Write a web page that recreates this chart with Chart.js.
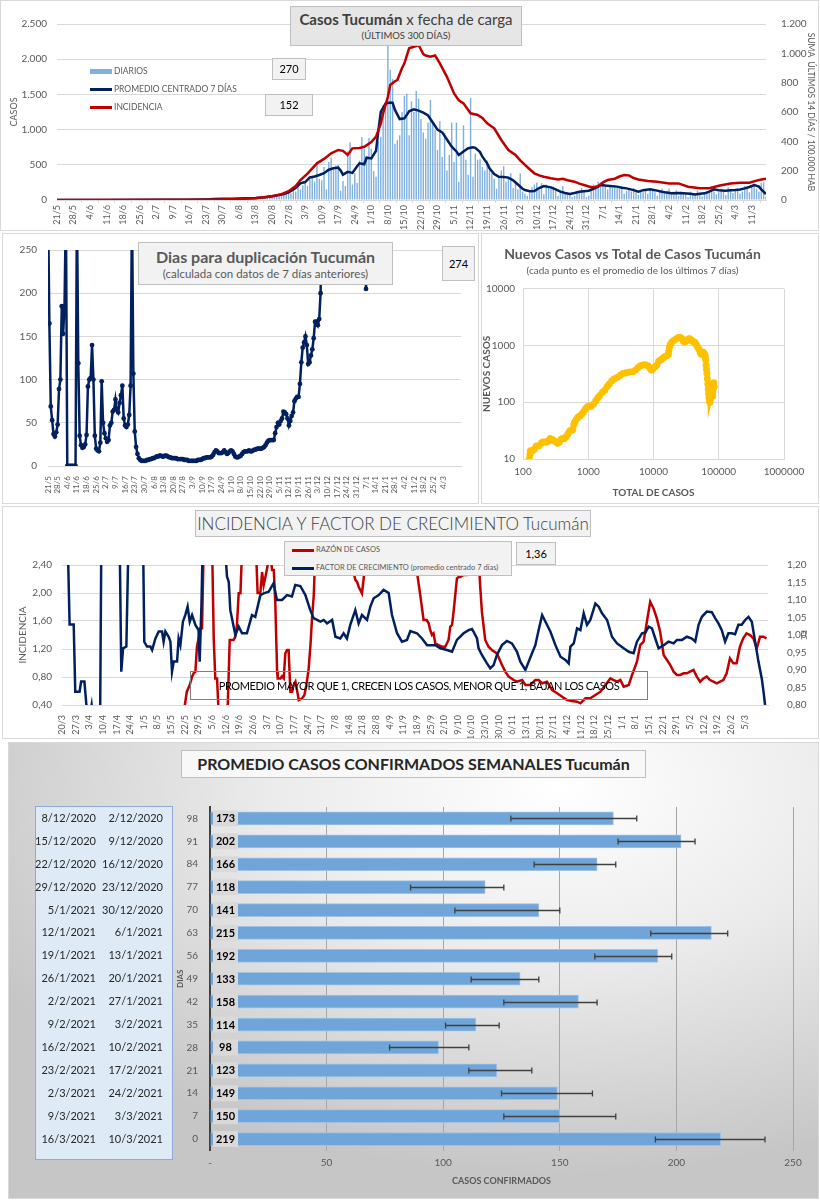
<!DOCTYPE html>
<html lang="es">
<head>
<meta charset="utf-8">
<title>Casos Tucumán</title>
<script src="https://cdn.jsdelivr.net/npm/chart.js@4.4.0/dist/chart.umd.min.js"></script>
<style>
  body { margin: 0; background: #fff; font-family: Lato, "Liberation Sans", sans-serif; }
  #page { position: relative; width: 820px; height: 1200px; overflow: hidden; }
  .panel { position: absolute; box-sizing: border-box; border: 1px solid #d9d9d9; background: #fff; }
  canvas { position: absolute; }
  .caja { position: absolute; box-sizing: border-box; background: #f2f2f2; border: 1px solid #bfbfbf;
          text-align: center; color: #404040; z-index: 3; white-space: nowrap; }
  .leyenda { position: absolute; z-index: 3; font-size: 8.5px; color: #595959; white-space: nowrap; }
  .leyenda div { position: absolute; left: 0; height: 12px; line-height: 12px; }
  .leyenda i { display: inline-block; width: 22px; vertical-align: middle; margin-right: 2px; }
</style>
</head>
<body>
<div id="page">
  <!-- paneles -->
  <div class="panel" style="left:0;top:0;width:819px;height:231px"></div>
  <div class="panel" style="left:2px;top:233px;width:477px;height:271px"></div>
  <div class="panel" style="left:481px;top:233px;width:338px;height:271px"></div>
  <div class="panel" style="left:2px;top:506px;width:817px;height:233px"></div>
  <div class="panel" style="left:8px;top:742px;width:811px;height:457px;
       background:radial-gradient(ellipse 80% 85% at 68% 10%, #ffffff 0%, #ebebeb 45%, #c6c6c6 100%);"></div>
  <div style="position:absolute;left:35px;top:806px;width:138px;height:354px;box-sizing:border-box;
       background:#deebf7;border:1.5px solid #8eaadb;"></div>

  <canvas id="c1" width="818" height="230" style="left:0;top:0"></canvas>
  <canvas id="c2" width="476" height="270" style="left:2px;top:233px"></canvas>
  <canvas id="c3" width="337" height="270" style="left:481px;top:233px"></canvas>
  <canvas id="c4" width="816" height="232" style="left:2px;top:506px"></canvas>
  <canvas id="c5" width="810" height="456" style="left:8px;top:742px"></canvas>

  <!-- grafico 1 -->
  <div class="caja" style="left:290px;top:6px;width:232px;height:40px;background:#e7e6e6">
    <div style="font-size:15px;margin-top:3px"><b>Casos Tucumán</b> x fecha de carga</div>
    <div style="font-size:9.5px;margin-top:2px">(ÚLTIMOS 300 DÍAS)</div>
  </div>
  <div class="caja" style="left:272px;top:58px;width:34px;height:22px;line-height:20px;font-size:11px;color:#000">270</div>
  <div class="caja" style="left:265px;top:94px;width:48px;height:22px;line-height:20px;font-size:11px;color:#000">152</div>
  <div class="leyenda" style="left:90px;top:65px">
    <div style="top:0"><i style="height:5px;background:#7fb0de"></i>DIARIOS</div>
    <div style="top:18px"><i style="height:3px;background:#002060"></i>PROMEDIO CENTRADO 7 DÍAS</div>
    <div style="top:36px"><i style="height:3px;background:#c00000"></i>INCIDENCIA</div>
  </div>

  <!-- grafico 2 -->
  <div class="caja" style="left:138px;top:242px;width:255px;height:43px;color:#595959">
    <div style="font-size:16px;font-weight:bold;margin-top:4px">Dias para duplicación Tucumán</div>
    <div style="font-size:11.5px;margin-top:1px">(calculada con datos de 7 días anteriores)</div>
  </div>
  <div class="caja" style="left:442px;top:246px;width:33px;height:35px;line-height:33px;font-size:11px;color:#000">274</div>

  <!-- grafico 4 -->
  <div class="caja" style="left:195px;top:510px;width:396px;height:27px;line-height:25px;font-size:17px;font-weight:300;color:#404040">INCIDENCIA Y FACTOR DE CRECIMIENTO Tucumán</div>
  <div class="caja" style="left:284px;top:541px;width:228px;height:35px">
    <div class="leyenda" style="left:7px;top:2px;font-size:7.5px">
      <div style="top:0"><i style="height:3px;background:#c00000"></i>RAZÓN DE CASOS</div>
      <div style="top:18px"><i style="height:3px;background:#002060"></i>FACTOR DE CRECIMIENTO (promedio centrado 7 días)</div>
    </div>
  </div>
  <div class="caja" style="left:516px;top:542px;width:40px;height:23px;line-height:21px;font-size:11px;color:#000">1,36</div>
  <div class="caja" style="left:190px;top:671px;width:458px;height:29px;line-height:27px;background:transparent;border-color:#7f7f7f;font-size:11px;letter-spacing:-0.4px;color:#000">PROMEDIO MAYOR QUE 1, CRECEN LOS CASOS, MENOR QUE 1, BAJAN LOS CASOS</div>

  <!-- grafico 5 -->
  <div class="caja" style="left:181px;top:750px;width:465px;height:28px;line-height:26px;background:#f8f8f8;font-size:16px;font-weight:bold;color:#262626">PROMEDIO CASOS CONFIRMADOS SEMANALES Tucumán</div>
</div>

<script>
// ---- datos grafico 1 y 2 (dias desde 21/5/2020) ----
const semanas = ['21/5','28/5','4/6','11/6','18/6','25/6','2/7','9/7','16/7','23/7','30/7','6/8','13/8','20/8','27/8',
  '3/9','10/9','17/9','24/9','1/10','8/10','15/10','22/10','29/10','5/11','12/11','19/11','26/11','3/12','10/12',
  '17/12','24/12','31/12','7/1','14/1','21/1','28/1','4/2','11/2','18/2','25/2','4/3','11/3'];

// casos diarios, una fila por semana
const diarios = [
  0,0,1,0,0,2,0,
  0,1,0,0,3,0,0,
  1,0,0,2,0,1,0,
  0,3,1,0,0,2,1,
  0,1,2,0,4,1,0,
  2,0,1,3,0,1,2,
  1,3,0,2,5,1,2,
  3,2,6,1,4,2,3,
  5,3,8,4,6,2,7,
  9,6,12,8,15,10,14,
  18,12,22,15,25,10,20,
  22,18,30,14,26,20,35,
  28,40,22,38,45,30,55,
  60,48,75,55,90,70,85,
  110,95,140,120,180,150,210,
  240,200,290,320,260,510,300,
  280,470,150,540,600,430,490,
  500,130,270,200,690,820,220,
  380,240,560,890,730,620,880,
  730,410,330,830,900,1350,1380,
  2200,1850,1720,800,850,920,1250,
  1480,1510,920,1400,1250,1550,1440,
  1150,960,870,1100,1420,1110,990,
  710,1120,610,950,420,640,1100,
  540,1100,260,650,1060,570,360,
  1450,330,660,570,580,470,420,
  560,430,380,300,160,330,420,
  480,260,330,380,170,260,150,
  380,120,90,60,110,180,220,
  250,150,240,80,220,170,160,
  190,130,60,140,200,110,90,
  100,40,60,130,110,170,140,
  40,60,130,220,180,260,200,
  240,220,150,200,180,210,170,
  160,200,90,130,150,120,170,
  110,70,140,110,160,90,150,
  140,110,60,120,160,100,130,
  160,90,100,140,60,120,110,
  90,40,120,80,70,130,100,
  50,90,110,140,170,120,80,
  110,160,140,70,180,130,100,
  150,160,90,120,200,170,110,
  190,230,160,120,240,250,50
];

// [dia, promedio centrado 7 dias]
const promedio7 = [[0,0],[20,1],[40,2],[55,4],[60,6],[63,8],[66,13],[70,17],[74,19],[77,21],[80,24],[84,30],[88,40],
  [91,52],[94,72],[96,85],[98,110],[101,170],[103,236],[105,255],[107,320],[109,335],[111,355],[113,380],[115,430],
  [117,450],[119,460],[120,420],[121,360],[123,400],[125,385],[127,480],[128,521],[130,508],[131,600],[133,590],
  [135,700],[136,990],[137,1250],[139,1370],[141,1385],[142,1380],[143,1280],[145,1150],[147,1160],[149,1260],
  [151,1288],[153,1270],[155,1240],[157,1200],[159,1100],[161,1000],[163,960],[165,860],[167,757],[169,690],
  [170,640],[172,690],[174,735],[176,750],[177,740],[179,680],[180,615],[182,520],[183,450],[185,370],[187,330],
  [189,325],[191,318],[193,280],[195,220],[197,160],[198,142],[200,125],[202,128],[204,170],[206,199],[209,180],
  [211,150],[213,118],[215,100],[217,85],[219,100],[221,118],[223,125],[225,132],[227,160],[229,190],[230,213],
  [232,205],[234,199],[237,190],[239,175],[241,165],[244,140],[246,118],[248,140],[251,151],[253,140],[256,118],
  [258,105],[260,95],[263,98],[265,95],[268,88],[270,80],[272,88],[274,95],[276,120],[278,151],[280,140],[283,132],
  [285,138],[287,142],[289,150],[291,165],[293,185],[295,213],[297,190],[298,151],[300,85]];

// [dia, suma ultimos 14 dias / 100.000 hab]
const incidencia14 = [[0,0],[60,1],[70,4],[77,7],[84,12],[91,25],[95,40],[98,60],[101,95],[103,136],[106,180],
  [110,250],[113,280],[116,318],[119,341],[121,335],[123,307],[125,352],[128,355],[130,363],[133,395],[135,432],
  [137,520],[138,591],[140,704],[141,784],[143,810],[144,818],[146,900],[147,932],[149,1034],[151,1045],[153,1057],
  [155,995],[156,985],[158,977],[160,985],[162,932],[165,840],[168,727],[170,680],[172,659],[175,591],[178,580],
  [180,560],[182,523],[185,489],[188,409],[191,341],[194,307],[196,270],[198,239],[200,210],[202,182],[204,168],
  [206,159],[209,148],[212,140],[214,145],[216,135],[219,125],[221,112],[223,102],[225,92],[227,86],[229,95],
  [231,120],[233,136],[236,145],[238,160],[240,170],[242,168],[244,150],[246,140],[250,129],[254,125],[259,113],
  [263,113],[267,91],[272,80],[276,80],[280,97],[285,113],[289,118],[293,118],[296,132],[298,140],[300,145]];

// dias para duplicacion, dia 0 .. 198
const duplicacion = [
  300,165,69,53,37,34,39,48,89,100,185,153,185,300,
  0,0,0,0,0,0,0,
  300,
  119,35,24,21,22,25,36,92,100,102,140,100,35,
  20,18,17,27,98,50,38,32,28,30,47,50,63,65,
  77,65,62,73,82,93,55,47,45,48,59,93,300,107,
  40,22,14,9,7,6,6,6,6,7,7,8,8,9,
  9,10,11,11,12,12,11,11,12,12,11,10,10,9,
  9,9,9,8,8,8,8,8,7,7,7,6,6,6,
  6,6,6,6,7,7,7,8,9,9,10,10,10,10,
  11,13,16,18,17,15,15,15,16,18,16,14,15,17,
  18,17,14,11,10,10,11,12,14,16,17,17,17,18,
  17,17,18,19,19,20,20,20,20,21,22,24,27,29,
  30,30,30,30,38,45,50,48,52,55,63,62,60,55,
  47,52,58,62,75,78,80,80,95,120,137,143,150,140,
  118,120,128,135,148,167,167,163,170,200
];
const duplicacionFinal = [[199,300],[230,300],[231,205],[232,300],[240,300]];

// ---- grafico 3: [total de casos, nuevos casos] ----
const nuevosVsTotal = [[125,10],[128,12],[130,14],[140,14],[150,15],[160,17],[175,17],[190,19],[200,20],[215,20],
  [230,20],[245,21],[260,23],[280,22],[300,21],[320,20],[340,19],[360,20],[380,22],[400,23],[430,23],[460,25],
  [490,28],[520,31],[550,32],[580,33],[600,40],[620,45],[660,50],[700,55],[750,58],[800,62],[850,68],[900,75],
  [950,82],[1000,85],[1050,86],[1100,85],[1200,92],[1300,105],[1400,120],[1500,132],[1650,150],[1800,165],
  [1950,190],[2100,210],[2300,240],[2500,260],[2800,275],[3100,300],[3400,320],[3800,330],[4300,340],[4800,345],
  [5300,370],[5800,410],[6300,440],[6900,455],[7500,460],[8200,440],[8800,400],[9300,370],[9800,395],[10500,420],
  [11200,450],[12000,530],[13000,560],[14000,600],[15000,640],[16000,660],[16800,700],[17200,800],[17500,920],
  [18000,1030],[19000,1150],[20500,1230],[22000,1300],[24000,1380],[25500,1400],[27000,1330],[28500,1200],
  [30000,1150],[32000,1200],[34000,1300],[36000,1320],[38000,1250],[40000,1180],[43000,1140],[45000,1050],
  [47000,950],[50000,860],[52000,760],[54000,700],[56000,730],[58000,760],[60000,720],[62000,650],[63000,560],
  [64000,450],[65000,380],[66000,320],[67000,260],[68000,210],[69000,170],[70000,140],[71000,120],[72000,105],
  [73000,100],[74000,110],[75000,130],[76000,160],[77000,190],[78000,210],[79000,180],[80000,150],[81000,130],
  [82000,170],[83000,200],[84000,220],[85000,190]];

// ---- grafico 4 (dias desde 20/3/2020) ----
const semanasFC = ['20/3','27/3','3/4','10/4','17/4','24/4','1/5','8/5','15/5','22/5','29/5','5/6','12/6','19/6',
  '26/6','3/7','10/7','17/7','24/7','31/7','7/8','14/8','21/8','28/8','4/9','11/9','18/9','25/9','2/10','9/10',
  '16/10','23/10','30/10','6/11','13/11','20/11','27/11','4/12','11/12','18/12','25/12','1/1','8/1','15/1','22/1',
  '29/1','5/2','12/2','19/2','26/2','5/3','12/3'];

const razonCasos = [[60,0.2],[63,0.40],[64,0.59],[65.5,0.686],[66.7,0.805],[67.5,0.852],[68.4,0.876],[69.2,1.233],
  [70,1.352],[70.9,1.495],[71.8,1.495],[72.6,2.6],[77,2.6],[77.8,1.352],[78.6,0.78],[79.5,0.78],[80.3,0.30],
  [84.6,0.30],[85,0.40],[86,1.329],[88,1.329],[88.9,1.376],[89.7,1.543],[90.6,1.995],[91.5,1.995],[92.3,2.6],
  [99.5,2.6],[100.3,2.0],[101.7,2.0],[102.6,2.30],[103.4,2.11],[104.3,2.23],[105,2.33],[106.8,2.6],[107.7,2.33],
  [108.6,2.33],[109.4,1.83],[110.3,0.876],[110.6,0.78],[112,0.78],[112.8,0.81],[113.7,0.78],[114.5,1.138],
  [115.4,1.186],[116.2,1.186],[117.1,0.59],[118,0.59],[118.8,0.686],[119.7,0.733],[120.5,0.614],[121.4,0.471],
  [123.1,0.495],[124.3,0.543],[125.3,0.686],[126.5,0.924],[127.4,1.257],[128.2,1.638],[129.1,1.971],[129.9,2.6],
  [148,2.6],[148.7,2.35],[149.5,2.30],[150.4,2.186],[151.3,2.16],[152.1,2.09],[153,2.04],[153.8,1.995],
  [154.7,2.21],[155.6,2.6],[181.5,2.6],[182,2.30],[183.7,1.97],[185.4,1.614],[187,1.614],[188,1.567],[188.8,1.471],
  [189.7,1.40],[190.5,1.424],[191.4,1.281],[193.1,1.257],[194.8,1.233],[196.5,1.233],[198.2,1.329],[199.1,1.519],
  [200,1.543],[200.8,1.733],[202.5,2.21],[203.4,2.23],[204.2,2.23],[205.9,2.257],[207.6,2.257],[209.4,2.28],
  [211,2.35],[212.8,2.6],[213.6,2.5],[214.5,2.067],[215.3,1.733],[217,1.329],[218.7,1.233],[220.4,1.186],
  [223,1.138],[225.6,0.971],[227.3,0.876],[229,0.805],[231.6,0.757],[233.3,0.733],[235.9,0.757],[237.6,0.686],
  [240.1,0.686],[242.7,0.757],[244.4,0.757],[246.2,0.71],[248.7,0.733],[251.3,0.614],[253.9,0.567],[256.4,0.519],
  [259,0.471],[261.5,0.457],[264.1,0.448],[265.8,0.424],[268.4,0.495],[270.9,0.495],[273.5,0.543],[276.1,0.59],
  [278.6,0.686],[281.2,0.78],[282.9,0.757],[284.6,0.733],[286.3,0.757],[288,0.662],[290.6,0.686],[292.3,0.829],
  [294.8,1.019],[296.5,1.257],[298.2,1.305],[299.9,1.59],[301.6,1.876],[303.3,1.78],[305,1.638],[306.7,1.448],
  [308.5,1.114],[310.2,1.043],[311.9,0.971],[313.6,0.876],[315.3,0.829],[317,0.829],[318.7,0.852],[320.4,0.852],
  [322,0.876],[323.8,0.90],[325.5,0.805],[327.2,0.733],[328.9,0.78],[330.6,0.805],[332.3,0.757],[334,0.733],
  [335.7,0.71],[337.4,0.733],[339.1,0.757],[340.8,0.852],[342.5,1.067],[344.2,0.995],[345.9,0.995],[347.6,1.233],
  [349.3,1.352],[351,1.424],[352.8,1.40],[354.5,1.352],[356.2,1.21],[357,1.281],[357.9,1.376],[359.6,1.376],
  [361.3,1.352]];

const factorCrecimiento = [[0,1.30],[3,1.25],[3.9,1.03],[6,1.03],[6.8,0.838],[9,0.838],[9.8,0.867],[11.5,0.867],
  [12.5,0.80],[14,0.76],[15.2,0.80],[16,0.76],[19.5,0.72],[20.2,1.30],[29.5,1.30],[30.4,0.895],[31.3,0.962],
  [33,0.967],[34.2,1.30],[41.5,1.30],[42.2,0.98],[43.6,0.967],[45.3,0.967],[46.2,0.957],[47.9,0.99],[49.6,1.01],
  [51.3,1.01],[52.1,0.981],[53,1.01],[54.7,0.995],[55.6,0.981],[56.4,0.895],[57.3,0.924],[59,0.924],[59.8,0.99],
  [60.7,0.971],[62,1.038],[63.2,1.057],[64.4,1.081],[65.5,1.038],[66.7,1.057],[68.4,1.029],[70,1.014],[70.6,0.924],
  [71.5,1.086],[72.3,1.30],[83,1.30],[84.6,1.167],[85.5,1.152],[86.3,1.071],[88.9,1.0],[90.6,1.024],[92.3,1.005],
  [94.8,1.005],[97.4,1.057],[99.1,1.052],[101.7,1.114],[103.4,1.119],[106,1.124],[108.5,1.148],[110.2,1.10],
  [112.8,1.10],[115.4,1.114],[117.9,1.11],[119.6,1.143],[122.2,1.14],[124.8,1.114],[127.3,1.071],[129,1.048],
  [130.8,1.043],[132.5,1.038],[134.2,1.043],[135.9,1.033],[138.5,1.043],[140.2,0.995],[142.7,0.99],[144.4,1.005],
  [146.1,0.99],[147.8,1.029],[150.4,1.071],[152.1,1.033],[153.8,1.057],[156.4,1.043],[158.1,1.081],[159.8,1.105],
  [162.4,1.114],[164.9,1.129],[167.5,1.12],[169.2,1.057],[171.8,1.005],[174.3,0.981],[176.9,0.986],[178.6,1.011],
  [182,1.005],[184.6,0.99],[187.2,0.971],[191.4,0.971],[194,0.962],[197.4,0.957],[200,0.952],[202.5,0.986],
  [205.9,1.005],[208.5,1.014],[210.2,1.017],[211,1.01],[212.8,0.99],[213.6,0.962],[215.3,0.943],[217.9,0.919],
  [219.6,0.905],[221.3,0.914],[223,0.943],[225.6,0.971],[228.1,0.983],[230.7,0.976],[233.3,0.952],[235,0.924],
  [237.6,0.90],[239.3,0.924],[241,0.948],[242.7,0.971],[244.4,1.014],[246.2,1.057],[247.9,1.038],[250.4,1.01],
  [253,0.971],[255.6,0.938],[258.1,0.929],[259.8,0.919],[260.7,0.967],[262.4,0.976],[264.1,1.019],[265.8,1.014],
  [267.5,1.062],[269.2,1.029],[270.9,1.043],[273.5,1.09],[275.2,1.081],[276.9,1.062],[279.5,1.043],[282,0.995],
  [284.6,0.976],[288,0.962],[290.6,0.952],[293.1,0.948],[294.8,0.981],[297.4,1.005],[299.1,1.007],[300.8,1.024],
  [302.5,1.019],[304.2,0.99],[305.9,0.962],[308.5,0.971],[311,0.981],[313.6,0.976],[315.3,0.986],[317.9,0.986],
  [320.4,0.995],[323,0.99],[324.7,0.981],[326.4,1.029],[328.1,1.052],[330.6,1.067],[333.2,1.065],[334.9,1.048],
  [336.6,1.033],[338.3,1.014],[340,0.981],[341.7,1.005],[343.4,1.005],[345.1,1.002],[346.8,1.029],[348.5,1.029],
  [350.3,1.043],[352,1.052],[353.7,1.038],[355.4,0.981],[357.1,0.924],[358.8,0.876],[359.7,0.838],[360.5,0.80]];

// ---- grafico 5 ----
const diasAtras = ['98','91','84','77','70','63','56','49','42','35','28','21','14','7','0'];
const promedioSemanal = [173,202,166,118,141,215,192,133,158,114,98,123,149,150,219];
const errorMin = [129,175,139,86,105,189,165,112,126,101,77,111,125,126,191];
const errorMax = [183,208,174,126,150,222,198,141,166,124,111,138,164,174,238];
const fechaHasta = ['8/12/2020','15/12/2020','22/12/2020','29/12/2020','5/1/2021','12/1/2021','19/1/2021',
  '26/1/2021','2/2/2021','9/2/2021','16/2/2021','23/2/2021','2/3/2021','9/3/2021','16/3/2021'];
const fechaDesde = ['2/12/2020','9/12/2020','16/12/2020','23/12/2020','30/12/2020','6/1/2021','13/1/2021',
  '20/1/2021','27/1/2021','3/2/2021','10/2/2021','17/2/2021','24/2/2021','3/3/2021','10/3/2021'];


Chart.defaults.font.family = 'Lato, "Liberation Sans", sans-serif';
Chart.defaults.font.size = 10;
Chart.defaults.color = '#595959';
Chart.defaults.animation = false;
Chart.defaults.plugins.legend.display = false;
Chart.defaults.plugins.tooltip.enabled = false;

function anchoFijo(w) { return function (s) { s.width = w; }; }
function altoFijo(h) { return function (s) { s.height = h; }; }
function miles(v) { return String(v).replace(/\B(?=(\d{3})+(?!\d))/g, '.'); }
function coma(v) { return v.toFixed(2).replace('.', ','); }
function xy(par) { return { x: par[0], y: par[1] }; }
function potencia10(v) {
  const l = Math.log10(v);
  return Math.abs(l - Math.round(l)) < 1e-9 ? String(v) : null;
}


// Casos x fecha de carga
new Chart(document.getElementById('c1'), {
  data: {
    datasets: [
      {
        type: 'bar', label: 'DIARIOS',
        data: diarios.map((v, i) => ({ x: i, y: v })),
        backgroundColor: '#7fb0de', barPercentage: 0.6, categoryPercentage: 1,
        yAxisID: 'y', order: 3
      },
      {
        type: 'line', label: 'PROMEDIO CENTRADO 7 DÍAS',
        data: promedio7.map(xy),
        borderColor: '#002060', borderWidth: 2.5, pointRadius: 0, yAxisID: 'y', order: 2
      },
      {
        type: 'line', label: 'INCIDENCIA',
        data: incidencia14.map(xy),
        borderColor: '#c00000', borderWidth: 2.5, pointRadius: 0, yAxisID: 'y1', order: 1
      }
    ]
  },
  options: {
    responsive: false,
    layout: { padding: { top: 24 } },
    scales: {
      x: {
        type: 'linear', min: 0, max: 300, offset: false,
        ticks: { stepSize: 7, autoSkip: false, maxRotation: 90, minRotation: 90, font: { size: 9 }, padding: 2,
                 callback: v => semanas[v / 7] },
        grid: { drawOnChartArea: false, tickLength: 3, color: '#d9d9d9' },
        border: { color: '#d9d9d9' },
        afterFit: altoFijo(30)
      },
      y: {
        position: 'left', min: 0, max: 2500,
        ticks: { stepSize: 500, padding: 10, callback: miles },
        grid: { color: '#d9d9d9', drawTicks: false },
        border: { display: false },
        title: { display: true, text: 'CASOS', font: { size: 9 }, padding: { top: 9 } },
        afterFit: anchoFijo(57)
      },
      y1: {
        position: 'right', min: 0, max: 1200,
        ticks: { stepSize: 200, padding: 7, callback: miles },
        grid: { display: false },
        border: { display: false },
        title: { display: true, text: 'SUMA  ÚLTIMOS 14 DÍAS / 100.000 HAB', font: { size: 8.5 }, padding: { top: 2 } },
        afterFit: anchoFijo(52)
      }
    }
  }
});


// Dias para duplicacion
new Chart(document.getElementById('c2'), {
  type: 'line',
  data: {
    datasets: [{
      label: 'Dias para duplicación',
      data: duplicacion.map((v, i) => ({ x: i, y: v })).concat(duplicacionFinal.map(xy)),
      borderColor: '#002060', borderWidth: 2.5,
      pointRadius: 2.4, pointBackgroundColor: '#002060', pointBorderWidth: 0
    }]
  },
  options: {
    responsive: false,
    layout: { padding: { top: 12, right: 17 } },
    scales: {
      x: {
        type: 'linear', min: 0, max: 300,
        ticks: { stepSize: 7, autoSkip: false, maxRotation: 90, minRotation: 90, font: { size: 8 }, padding: 2,
                 callback: v => semanas[v / 7] },
        grid: { display: false },
        border: { color: '#d9d9d9' },
        afterFit: altoFijo(37)
      },
      y: {
        min: 0, max: 250,
        ticks: { stepSize: 50, padding: 11 },
        grid: { color: '#d9d9d9', drawTicks: false },
        border: { display: false },
        afterFit: anchoFijo(46)
      }
    }
  }
});


// Nuevos casos vs total
new Chart(document.getElementById('c3'), {
  type: 'scatter',
  data: {
    datasets: [{
      label: 'Nuevos casos',
      data: nuevosVsTotal.map(xy),
      showLine: true, borderColor: '#ffc000', borderWidth: 4,
      pointRadius: 3.5, pointBackgroundColor: '#ffc000', pointBorderWidth: 0
    }]
  },
  options: {
    responsive: false,
    layout: { padding: { right: 34 } },
    plugins: {
      title: { display: true, text: 'Nuevos Casos vs Total de Casos Tucumán', color: '#595959',
               font: { size: 14, weight: 'bold' }, padding: { top: 13, bottom: 0 } },
      subtitle: { display: true, text: '(cada punto es el promedio de los últimos 7 días)', color: '#595959',
                  font: { size: 10 }, padding: { top: 2, bottom: 12 } }
    },
    scales: {
      x: {
        type: 'logarithmic', min: 100, max: 1000000,
        ticks: { callback: potencia10, padding: 7, autoSkip: false, maxRotation: 0 },
        grid: { color: '#d9d9d9', drawTicks: false },
        border: { color: '#d9d9d9' },
        title: { display: true, text: 'TOTAL DE CASOS', font: { size: 10, weight: 'bold' } },
        afterFit: altoFijo(44)
      },
      y: {
        type: 'logarithmic', min: 10, max: 10000,
        ticks: { callback: potencia10, padding: 8, autoSkip: false },
        grid: { color: '#d9d9d9', drawTicks: false },
        border: { color: '#d9d9d9' },
        title: { display: true, text: 'NUEVOS CASOS', font: { size: 10, weight: 'bold' }, padding: { top: 0 } },
        afterFit: anchoFijo(42)
      }
    }
  }
});


// Incidencia y factor de crecimiento
new Chart(document.getElementById('c4'), {
  type: 'line',
  data: {
    datasets: [
      {
        label: 'RAZÓN DE CASOS', data: razonCasos.map(xy), yAxisID: 'y',
        borderColor: '#c00000', borderWidth: 2.5, pointRadius: 0, order: 2
      },
      {
        label: 'FACTOR DE CRECIMIENTO (promedio centrado 7 días)', data: factorCrecimiento.map(xy), yAxisID: 'y1',
        borderColor: '#002060', borderWidth: 2.5, pointRadius: 0, order: 1
      }
    ]
  },
  options: {
    responsive: false,
    layout: { padding: { top: 59 } },
    scales: {
      x: {
        type: 'linear', min: 0, max: 362,
        ticks: { stepSize: 7, autoSkip: false, maxRotation: 90, minRotation: 90, font: { size: 9 }, padding: 2,
                 callback: v => semanasFC[v / 7] },
        grid: { display: false },
        border: { color: '#d9d9d9' },
        afterFit: altoFijo(33)
      },
      y: {
        position: 'left', min: 0.4, max: 2.4,
        ticks: { stepSize: 0.2, padding: 10, callback: coma },
        grid: { color: '#d9d9d9', drawTicks: false },
        border: { display: false },
        title: { display: true, text: 'INCIDENCIA', font: { size: 10 }, padding: { top: 15 } },
        afterFit: anchoFijo(60)
      },
      y1: {
        position: 'right', min: 0.8, max: 1.2,
        ticks: { stepSize: 0.05, padding: 11, callback: coma },
        grid: { display: false },
        border: { display: false },
        title: { display: true, text: 'FC', font: { size: 8 }, padding: { top: 10 } },
        afterFit: anchoFijo(50)
      }
    }
  }
});


// Promedio casos confirmados semanales
const extrasSemanales = {
  id: 'extrasSemanales',
  afterDatasetsDraw(chart) {
    const { ctx, scales: { x, y } } = chart;
    ctx.save();
    // barras de error
    ctx.strokeStyle = '#404040';
    ctx.lineWidth = 1.3;
    errorMin.forEach((lo, i) => {
      const yy = Math.round(y.getPixelForValue(i)) + 0.5;
      const x1 = x.getPixelForValue(lo), x2 = x.getPixelForValue(errorMax[i]);
      ctx.beginPath();
      ctx.moveTo(x1, yy); ctx.lineTo(x2, yy);
      ctx.moveTo(x1, yy - 3); ctx.lineTo(x1, yy + 3);
      ctx.moveTo(x2, yy - 3); ctx.lineTo(x2, yy + 3);
      ctx.stroke();
    });
    // etiquetas de valor
    const x0 = x.getPixelForValue(0);
    ctx.font = 'bold 11px Lato, sans-serif';
    ctx.textAlign = 'center';
    ctx.textBaseline = 'middle';
    promedioSemanal.forEach((v, i) => {
      const yy = y.getPixelForValue(i);
      ctx.fillStyle = '#d9d9d9';
      ctx.fillRect(x0 + 3, yy - 8, 25, 16);
      ctx.fillStyle = '#000';
      ctx.fillText(v, x0 + 15.5, yy + 0.5);
    });
    // fechas de cada semana
    ctx.font = '11px Lato, sans-serif';
    ctx.fillStyle = '#262626';
    ctx.textAlign = 'right';
    fechaHasta.forEach((f, i) => {
      const yy = y.getPixelForValue(i);
      ctx.fillText(f, 88, yy);
      ctx.fillText(fechaDesde[i], 155, yy);
    });
    ctx.restore();
  }
};

new Chart(document.getElementById('c5'), {
  type: 'bar',
  data: {
    labels: diasAtras,
    datasets: [{
      label: 'CASOS CONFIRMADOS', data: promedioSemanal,
      backgroundColor: '#6fa5d9', borderColor: '#9cc2e8', borderWidth: 1, barThickness: 13
    }]
  },
  options: {
    responsive: false,
    indexAxis: 'y',
    layout: { padding: { top: 65, left: 168, right: 25, bottom: 7.5 } },
    scales: {
      x: {
        min: 0, max: 250,
        ticks: { stepSize: 50, padding: 6, callback: v => (v === 0 ? '-' : v) },
        grid: { color: '#a6a6a6', drawTicks: false },
        border: { display: false },
        title: { display: true, text: 'CASOS CONFIRMADOS', font: { size: 9, weight: 'bold' }, padding: { top: 4 } },
        afterFit: altoFijo(40)
      },
      y: {
        ticks: { padding: 4 },
        grid: { display: false },
        border: { color: '#404040', width: 2 },
        title: { display: true, text: 'DIAS', font: { size: 8, weight: 'bold' }, padding: { top: 0 } },
        afterFit: anchoFijo(34)
      }
    }
  },
  plugins: [extrasSemanales]
});
</script>
</body>
</html>
